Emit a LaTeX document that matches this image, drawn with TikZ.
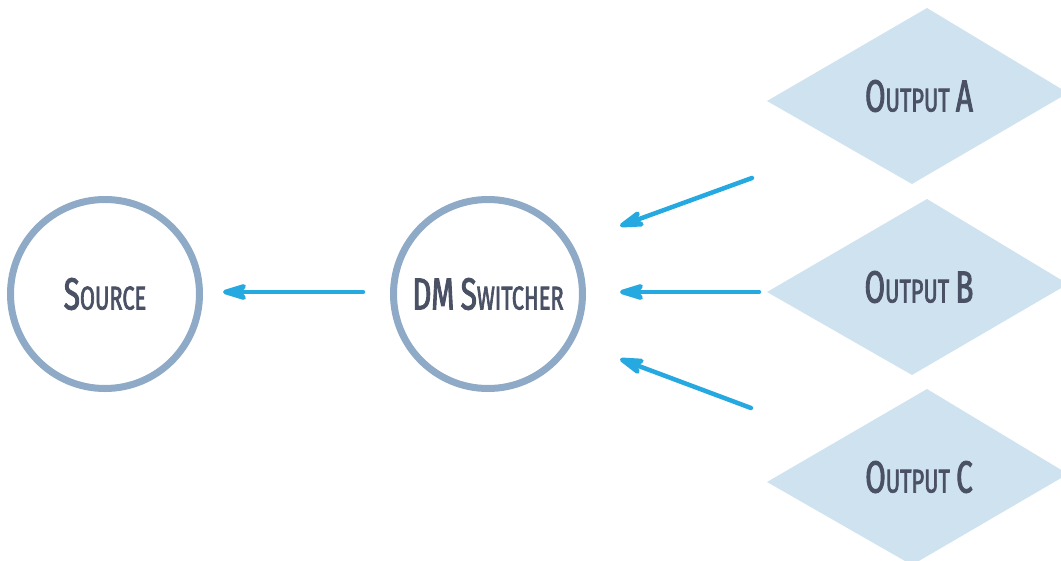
\documentclass[tikz,border=0pt]{standalone}
\usepackage{fontspec}
\usetikzlibrary{arrows.meta}
\newfontfamily\labelfont[FakeStretch=0.66, FakeBold=2]{Fira Sans}
\definecolor{ringblue}{HTML}{8EAAC6}
\definecolor{boxblue}{HTML}{CEE2EF}
\definecolor{flowblue}{HTML}{26A9E0}
\definecolor{inkgray}{HTML}{4A5165}
\newcommand\bigsm[2]{{\fontsize{45}{45}\selectfont #1}{\fontsize{33}{33}\selectfont #2}}

\begin{document}
\begin{tikzpicture}[x=1pt, y=-1pt,
    ring/.style={circle, draw=ringblue, line width=7pt, minimum size=189pt, inner sep=0pt},
    lbl/.style={text=inkgray, font=\labelfont\fontsize{36}{36}\selectfont, inner sep=0pt},
    flow/.style={draw=flowblue, line width=4.5pt, line cap=round,
        -{Stealth[round, length=33pt, width=20pt, inset=9pt]}}]
        \clip (0,0) rectangle (1061,560);
        \useasboundingbox (0,0) rectangle (1061,560);

        % Outputs
        \foreach \dy/\name/\tag in {0/outa/A, 191/outb/B, 381/outc/C} {
            \fill[boxblue] (927,{8+\dy}) -- (1068,{93+\dy}) -- (912,{184+\dy}) -- (767,{101+\dy}) -- cycle;
            \node[lbl] (\name) at (919,{96+\dy}) {\bigsm{O}{UTPUT} \bigsm{\tag}{}};
        }

        % Circles
        \node[ring, lbl] (src) at (105,294) {\bigsm{S}{OURCE}};
        \node[ring, lbl] (sw) at (488,294) {\bigsm{DM}{} \bigsm{S}{WITCHER}};

        % Ends of the arrows
        \coordinate (taila) at (752,178);
        \coordinate (tipa) at (620,226);
        \coordinate (tailb) at (759,292);
        \coordinate (tipb) at (620,292);
        \coordinate (tailc) at (751,408);
        \coordinate (tipc) at (620,359);

        % Arrows
        \draw[flow, shorten <=27pt, shorten >=20pt] (sw.west |- 0,292) -- (src.east |- 0,292);
        \draw[flow] (taila) -- (tipa);
        \draw[flow] (tailb) -- (tipb);
        \draw[flow] (tailc) -- (tipc);
\end{tikzpicture}
\end{document}
